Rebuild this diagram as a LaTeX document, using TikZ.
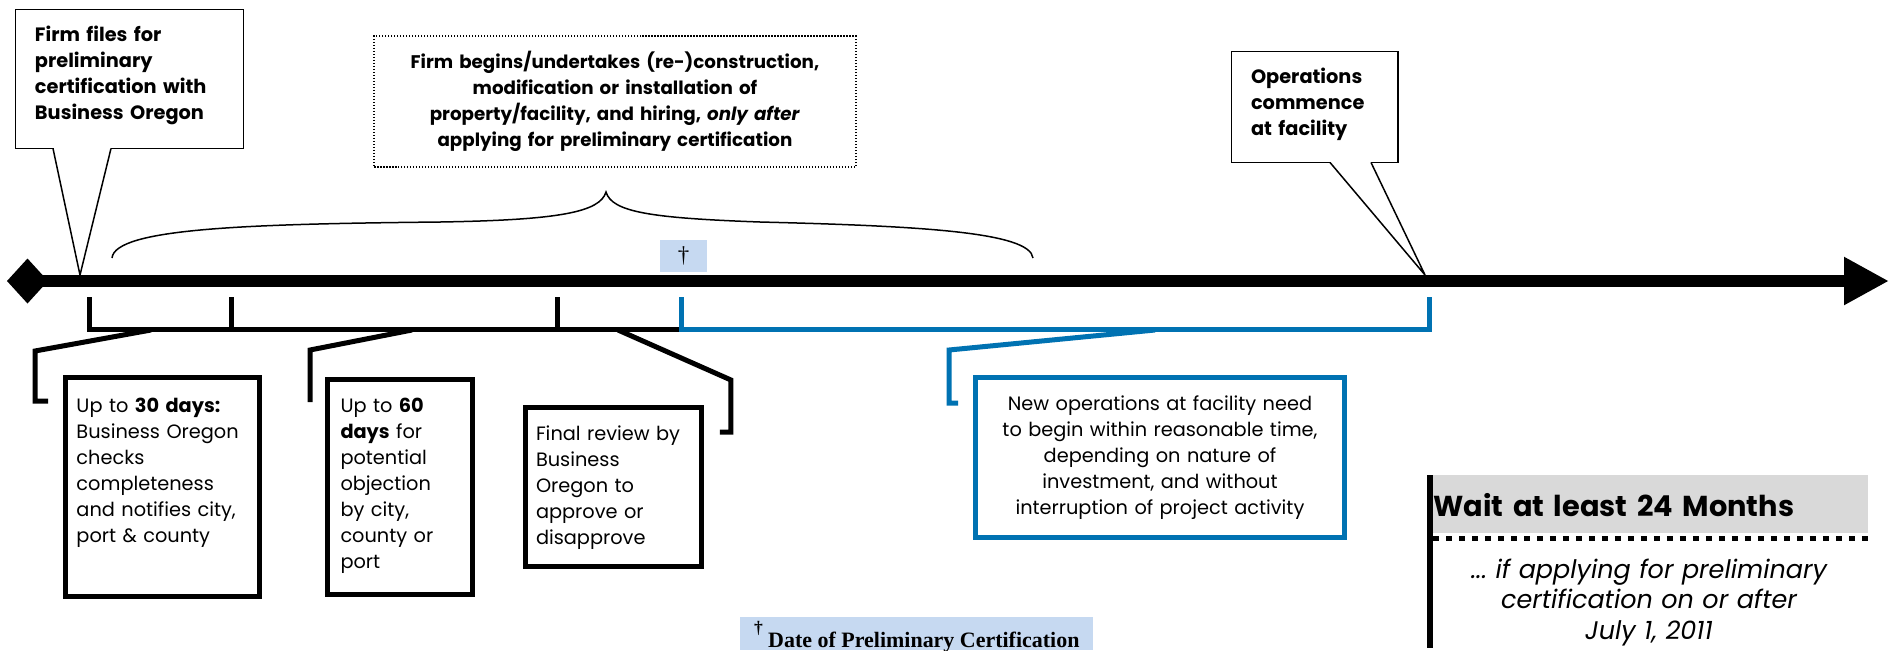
\documentclass[tikz,border=0pt]{standalone}
\usepackage{fontspec}
\setmainfont{Poppins}
\newfontfamily\garafont{Liberation Serif}
\usetikzlibrary{arrows.meta}
\usetikzlibrary{calc}
\definecolor{seablue}{RGB}{0,114,178}
\definecolor{paleblue}{RGB}{198,217,241}
\definecolor{lightgrey}{RGB}{217,217,217}
\hyphenpenalty=10000
\tikzset{
  notebox/.style={draw, line width=0.03cm, outer sep=0pt, inner ysep=0pt, anchor=north west, font=\bfseries\fontsize{11}{14.8}\selectfont},
  daybox/.style={draw, line width=0.1cm, outer sep=0pt, inner ysep=0pt, anchor=north west, align=left, font=\fontsize{11}{14.8}\selectfont},
  elbow/.style={line width=0.1cm, line join=miter},
  pointer/.style={line width=0.03cm, line join=miter},
}

\begin{document}
\begin{tikzpicture}[x=0.02cm, y=-0.02cm]
\useasboundingbox (0,0) rectangle (1902,650);
\draw [line width=0.24cm, {Diamond[length=0.82cm, width=0.9cm]}-{Triangle[length=0.9cm, width=0.9cm]}] (7,281) -- (1889,281);
\coordinate (filed) at (80,275);
\coordinate (opens) at (1425,275);
\node [notebox, align=left, inner xsep=0.39cm, text width=3.78cm, text height=0.63cm, text depth=2.15cm] (firm) at (15.5,9.5) {Firm files for\\preliminary\\certification with\\Business Oregon};
\fill [white] ($(firm.south west)+(38,-1)$) rectangle ($(firm.south west)+(95,1)$);
\draw [pointer] ($(firm.south west)+(37.5,0)$) -- (filed) -- ($(firm.south west)+(95.5,0)$);
\node [notebox, align=left, inner xsep=0.39cm, text width=2.55cm, text height=0.63cm, text depth=1.59cm] (opsbox) at (1231.5,51.5) {Operations\\commence\\at facility};
\fill [white] ($(opsbox.south west)+(99,-1)$) rectangle ($(opsbox.south west)+(139,1)$);
\draw [pointer] ($(opsbox.south west)+(98.5,0)$) -- (opens) -- ($(opsbox.south west)+(139.5,0)$);
\node [notebox, align=center, dash pattern=on 0.03cm off 0.03cm, inner xsep=0.2cm, text width=9.24cm, text height=0.64cm, text depth=1.98cm, font=\bfseries\fontsize{10.4}{14.8}\selectfont] (works) at (374,36) {Firm begins/undertakes (re-)construction,\\modification or installation of\\property/facility, and hiring, \textit{only after}\\applying for preliminary certification};
\draw [line width=0.03cm] (112,258) .. controls (115,228) and (250,224) .. (440,222) .. controls (560,220) and (600,212) .. (606,192) .. controls (612,212) and (650,218) .. (760,222) .. controls (920,226) and (1030,232) .. (1033,258);
\node [fill=paleblue, inner sep=0pt, minimum width=0.94cm, minimum height=0.64cm, font=\garafont\fontsize{13}{13}\selectfont] (datemark) at (683.5,256) {\dag};
\draw [elbow] (89,297) -- (89,329) -- (681,329);
\draw [elbow] (231,297) -- (231,329);
\draw [elbow] (557,297) -- (557,329);
\draw [elbow, seablue] (681,297) -- (681,329) -- (1429,329) -- (1429,297);
\coordinate (span1) at (151,330);
\coordinate (span2) at (412,330);
\coordinate (span3) at (618,330);
\coordinate (span4) at (1155,330);
\node [daybox, inner xsep=0.22cm, text width=3.44cm, text height=0.69cm, text depth=3.69cm] (upto30) at (65.5,377.5) {Up to \textbf{30 days:}\\Business Oregon\\checks\\completeness\\and notifies city,\\port \& county};
\node [daybox, inner xsep=0.26cm, text width=2.38cm, text height=0.65cm, text depth=3.65cm] (upto60) at (327.5,379.5) {Up to \textbf{60}\\\textbf{days} for\\potential\\objection\\by city,\\county or\\port};
\node [daybox, inner xsep=0.22cm, text width=3.1cm, text height=0.65cm, text depth=2.54cm] (review) at (525,407.5) {Final review by\\Business\\Oregon to\\approve or\\disapprove};
\node [daybox, draw=seablue, align=center, inner xsep=0.2cm, text width=6.98cm, text height=0.65cm, text depth=2.56cm] (newops) at (975.5,377.5) {New operations at facility need\\to begin within reasonable time,\\depending on nature of\\investment, and without\\interruption of project activity};
\draw [elbow] (span1) -- ($(upto30.north west)+(-30.5,-26.5)$) -- ++(0,50) -- ++(13,0);
\draw [elbow] (span2) -- ($(upto60.north west)+(-17.5,-29.5)$) -- ++(0,52);
\draw [elbow] (span3) -- ($(review.north east)+(29,-27.5)$) -- ++(0,52) -- ++(-11,0);
\draw [elbow, seablue] (span4) -- ($(newops.north west)+(-26.5,-27.5)$) -- ++(0,53) -- ++(9,0);
\node [fill=lightgrey, anchor=north west, inner sep=0pt, text width=8.7cm, text height=0.82cm, text depth=0.34cm, align=left, font=\bfseries\fontsize{16.4}{20}\selectfont] (wait) at (1433,475) {Wait at least 24 Months};
\draw [line width=0.12cm] ($(wait.north west)+(-3,0)$) -- ++(0,173);
\draw [line width=0.1cm, dash pattern=on 0.12cm off 0.14cm] ($(wait.south west)+(0,4.5)$) -- ($(wait.south east)+(0,4.5)$);
\node [anchor=base, text width=9cm, align=center, font=\itshape\fontsize{14.5}{17.6}\selectfont] (after) at (1649,578) {...\ if applying for preliminary\\certification on or after\\July 1, 2011};
\node [fill=paleblue, anchor=north west, inner sep=0pt, minimum width=7.06cm, text height=0.6cm, text depth=0.06cm, font=\garafont\bfseries] (datenote) at (740,617) {\raisebox{8pt}{\fontsize{10}{10}\selectfont\dag}\hspace{3pt}{\fontsize{12.5}{13}\selectfont Date of Preliminary Certification}};
\end{tikzpicture}
\end{document}
